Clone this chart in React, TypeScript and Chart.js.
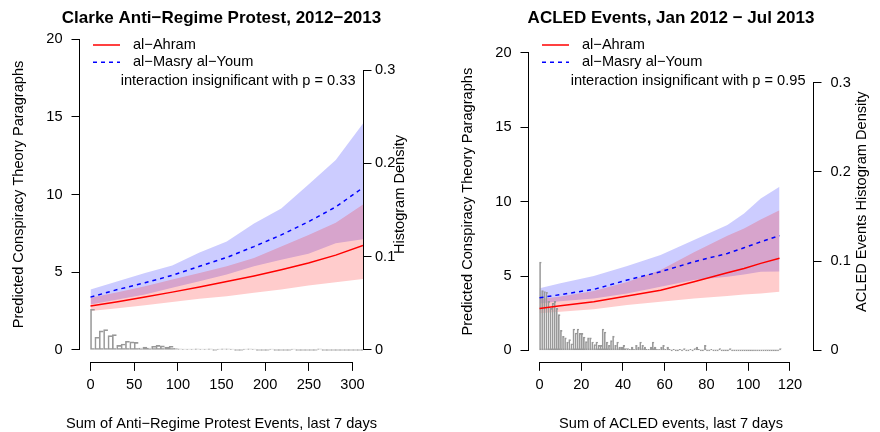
import { useEffect, useRef } from 'react';
import { Chart, registerables } from 'chart.js';

Chart.register(...registerables);

const FONT = '"Liberation Sans", Arial, Helvetica, sans-serif';
const TEXT_PX = 14.6;
const TITLE_PX = 17;
const RED = '#ff0000';
const BLUE = '#0000ff';
const HIST_COLOR = '#999999';
const PANEL_W = 440;
const PANEL_H = 432;

// shared ticks
const countTicks = [0, 5, 10, 15, 20];
const densityTicks = [0, 0.1, 0.2, 0.3];
const countRange: [number, number] = [-0.8, 20.8];
const densityPerCount = 1 / 60;

// ---------- Panel 1: Clarke anti-regime protests ----------
const clarkeX = [0, 31.2, 62.4, 93.6, 124.8, 156, 187.2, 218.4, 249.6, 280.8, 312];
const clarkeAhramMean = [2.83, 3.1, 3.4, 3.72, 4.05, 4.4, 4.76, 5.16, 5.6, 6.1, 6.72];
const clarkeAhramLow = [2.51, 2.68, 2.87, 3.08, 3.3, 3.46, 3.68, 3.89, 4.15, 4.36, 4.57];
const clarkeAhramHigh = [3.36, 3.72, 4.1, 4.53, 4.95, 5.38, 5.91, 6.65, 7.4, 8.18, 9.35];
const clarkeMasryMean = [3.4, 3.89, 4.32, 4.8, 5.38, 5.95, 6.65, 7.4, 8.25, 9.2, 10.44];
const clarkeMasryLow = [2.93, 3.25, 3.57, 4.0, 4.42, 4.85, 5.38, 5.8, 6.19, 6.87, 7.12];
const clarkeMasryHigh = [3.89, 4.42, 4.95, 5.44, 6.27, 6.97, 8.14, 9.1, 10.65, 12.22, 14.56];
const clarkeHistWidth = 5;
const clarkeHistDensity = [
  0.0436, 0.0136, 0.0204, 0.0218, 0.0153, 0.0164, 0.005, 0.0064, 0.0093, 0.0086,
  0.0082, 0.0021, 0.0032, 0.0021, 0.004, 0.005, 0.0043, 0.0032, 0.004, 0.0018,
  0.0011, 0.0005, 0.0005, 0.0005, 0.0011, 0.0005, 0.0005, 0.0011, 0, 0.0005,
  0.0011, 0.0011, 0.0005, 0, 0, 0.0005, 0.0011, 0.0005, 0, 0,
  0, 0.0005, 0, 0, 0, 0, 0.0005, 0, 0, 0,
  0, 0, 0.0011, 0, 0, 0, 0, 0, 0, 0,
  0, 0, 0,
];
const clarkeXTicks = [0, 50, 100, 150, 200, 250, 300];

// ---------- Panel 2: ACLED events ----------
const acledX = [0, 10, 26, 42, 58, 74, 90, 98, 106, 115];
const acledAhramMean = [2.82, 3.0, 3.27, 3.65, 4.05, 4.61, 5.22, 5.5, 5.85, 6.19];
const acledAhramLow = [2.49, 2.6, 2.76, 3.05, 3.27, 3.49, 3.65, 3.75, 3.83, 3.94];
const acledAhramHigh = [3.45, 3.62, 4.0, 4.6, 5.4, 6.6, 7.7, 8.2, 8.8, 9.43];
const acledMasryMean = [3.54, 3.75, 4.1, 4.73, 5.29, 5.96, 6.52, 6.9, 7.3, 7.71];
const acledMasryLow = [3.16, 3.3, 3.49, 3.83, 4.28, 4.73, 4.95, 5.1, 5.29, 5.3];
const acledMasryHigh = [4.17, 4.51, 5.0, 5.67, 6.41, 7.42, 8.43, 9.21, 10.22, 11.0];
const acledHistWidth = 1;
const acledHistDensity = [
  0.099, 0.067, 0.066, 0.065, 0.055, 0.047, 0.053, 0.055, 0.047, 0.04,
  0.0225, 0.0157, 0.014, 0.0094, 0.012, 0.0075, 0.024, 0.0195, 0.024, 0.019,
  0.019, 0.015, 0.0098, 0.014, 0.014, 0.0094, 0.0064, 0.0094, 0.0056, 0.0056,
  0.024, 0.0206, 0.0094, 0.0056, 0.011, 0.016, 0.0056, 0.0094, 0.0037, 0.0037,
  0.0056, 0.0019, 0.0019, 0.0013, 0.0037, 0.0013, 0.0056, 0.0037, 0.0094, 0.0056,
  0.0037, 0.0013, 0.0013, 0.0037, 0.0094, 0.0037, 0.0013, 0.0013, 0.0037, 0.0056,
  0.0013, 0.0037, 0.0013, 0, 0.0013, 0, 0, 0.0013, 0, 0.0019,
  0, 0, 0.0013, 0, 0.0019, 0.0037, 0.0013, 0, 0, 0.0056,
  0, 0, 0.0013, 0, 0, 0, 0.0019, 0, 0, 0,
  0, 0.0019, 0, 0, 0, 0, 0, 0, 0, 0,
  0, 0, 0, 0, 0, 0, 0, 0, 0, 0,
  0, 0, 0, 0, 0, 0.0019,
];
const acledXTicks = [0, 20, 40, 60, 80, 100, 120];

interface PanelSpec {
  title: string;
  xTitle: string;
  yTitle: string;
  y2Title: string;
  note: string;
  x: number[];
  ahramMean: number[];
  ahramLow: number[];
  ahramHigh: number[];
  masryMean: number[];
  masryLow: number[];
  masryHigh: number[];
  histWidth: number;
  hist: number[];
  xRange: [number, number];
  xTicks: number[];
  area: { left: number; right: number; top: number; bottom: number };
  y2LabelPad: number;
  y2TitleGap: number;
}

const clarkePanel: PanelSpec = {
  title: 'Clarke Anti\u2212Regime Protest, 2012\u22122013',
  xTitle: 'Sum of Anti\u2212Regime Protest Events, last 7 days',
  yTitle: 'Predicted Conspiracy Theory Paragraphs',
  y2Title: 'Histogram Density',
  note: 'interaction insignificant with p = 0.33',
  x: clarkeX,
  ahramMean: clarkeAhramMean,
  ahramLow: clarkeAhramLow,
  ahramHigh: clarkeAhramHigh,
  masryMean: clarkeMasryMean,
  masryLow: clarkeMasryLow,
  masryHigh: clarkeMasryHigh,
  histWidth: clarkeHistWidth,
  hist: clarkeHistDensity,
  xRange: [-12, 312],
  xTicks: clarkeXTicks,
  area: { left: 80, right: 363, top: 26.6, bottom: 362.4 },
  y2LabelPad: 3.5,
  y2TitleGap: 37,
};

const acledPanel: PanelSpec = {
  title: 'ACLED Events, Jan 2012 \u2212 Jul 2013',
  xTitle: 'Sum of ACLED events, last 7 days',
  yTitle: 'Predicted Conspiracy Theory Paragraphs',
  y2Title: 'ACLED Events Histogram Density',
  note: 'interaction insignificant with p = 0.95',
  x: acledX,
  ahramMean: acledAhramMean,
  ahramLow: acledAhramLow,
  ahramHigh: acledAhramHigh,
  masryMean: acledMasryMean,
  masryLow: acledMasryLow,
  masryHigh: acledMasryHigh,
  histWidth: acledHistWidth,
  hist: acledHistDensity,
  xRange: [-5.04, 131.04],
  xTicks: acledXTicks,
  area: { left: 89, right: 373, top: 41, bottom: 362.3 },
  y2LabelPad: 9,
  y2TitleGap: 49,
};

const toXY = (xs: number[], ys: number[]) => xs.map((x, i) => ({ x, y: ys[i] }));

function PanelChart({ spec }: { spec: PanelSpec }) {
  const ref = useRef<HTMLCanvasElement | null>(null);

  useEffect(() => {
    const canvas = ref.current;
    if (!canvas) return;
    const area = spec.area;
    const tickFont = { family: FONT, size: TEXT_PX };

    const decor = {
      id: 'decor',
      afterDraw(chart: any) {
        const { ctx, chartArea: ca, scales } = chart;
        const sx = scales.x;
        const sy = scales.y;
        const sy2 = scales.y2;
        ctx.save();
        ctx.strokeStyle = '#000';
        ctx.lineWidth = 1;
        ctx.setLineDash([]);
        const al = (v: number) => Math.round(v - 0.5) + 0.5;
        // spines spanning first to last tick (R style)
        ctx.beginPath();
        const lx = Math.round(ca.left) - 0.5;
        ctx.moveTo(lx, al(sy.getPixelForValue(countTicks[0])) + 0.5);
        ctx.lineTo(lx, al(sy.getPixelForValue(countTicks[countTicks.length - 1])) - 0.5);
        const rx = Math.round(ca.right) + 0.5;
        ctx.moveTo(rx, al(sy2.getPixelForValue(densityTicks[0])) + 0.5);
        ctx.lineTo(rx, al(sy2.getPixelForValue(densityTicks[densityTicks.length - 1])) - 0.5);
        const by = Math.round(ca.bottom) + 0.5;
        ctx.moveTo(al(sx.getPixelForValue(spec.xTicks[0])) - 0.5, by);
        ctx.lineTo(al(sx.getPixelForValue(spec.xTicks[spec.xTicks.length - 1])) + 0.5, by);
        ctx.stroke();

        // legend
        const l0 = ca.left + 13;
        const l1 = ca.left + 40;
        const tx = ca.left + 53;
        const rows = [45, 62.3];
        ctx.lineWidth = 1.5;
        ctx.strokeStyle = RED;
        ctx.beginPath();
        ctx.moveTo(l0, rows[0]);
        ctx.lineTo(l1, rows[0]);
        ctx.stroke();
        ctx.strokeStyle = BLUE;
        ctx.setLineDash([4, 4]);
        ctx.beginPath();
        ctx.moveTo(l0, rows[1]);
        ctx.lineTo(l1, rows[1]);
        ctx.stroke();
        ctx.setLineDash([]);

        const cy = (ca.top + ca.bottom) / 2;
        const cx = (ca.left + ca.right) / 2;

        // main title
        ctx.fillStyle = '#000';
        ctx.textBaseline = 'middle';
        ctx.textAlign = 'center';
        ctx.font = `bold ${TITLE_PX}px ${FONT}`;
        ctx.fillText(spec.title, cx, 18);

        ctx.font = `${TEXT_PX}px ${FONT}`;
        ctx.textAlign = 'left';
        ctx.fillText('al\u2212Ahram', tx, rows[0]);
        ctx.fillText('al\u2212Masry al\u2212Youm', tx, rows[1]);
        ctx.textAlign = 'right';
        ctx.fillText(spec.note, ca.right - 7.5, 80.5);

        // axis titles
        ctx.textAlign = 'center';
        ctx.fillText(spec.xTitle, cx, ca.bottom + 61.6);
        ctx.save();
        ctx.translate(ca.left - 61, cy);
        ctx.rotate(-Math.PI / 2);
        ctx.fillText(spec.yTitle, 0, 0);
        ctx.restore();
        ctx.save();
        ctx.translate(ca.right + spec.y2TitleGap, cy);
        ctx.rotate(-Math.PI / 2);
        ctx.fillText(spec.y2Title, 0, 0);
        ctx.restore();
        ctx.restore();
      },
    };

    const lineBase = { pointRadius: 0, tension: 0, fill: false };
    const bandEdge = { ...lineBase, borderWidth: 0, borderColor: 'rgba(0,0,0,0)' };

    const histData = spec.hist.map((d, i) => ({ x: (i + 0.5) * spec.histWidth, y: d }));

    const chart = new Chart(canvas, {
      type: 'line',
      data: {
        datasets: [
          { ...lineBase, label: 'al\u2212Ahram', data: toXY(spec.x, spec.ahramMean), borderColor: RED, borderWidth: 1.5 },
          {
            ...lineBase,
            label: 'al\u2212Masry al\u2212Youm',
            data: toXY(spec.x, spec.masryMean),
            borderColor: BLUE,
            borderWidth: 1.5,
            borderDash: [4, 4],
          },
          {
            type: 'bar',
            label: 'histogram',
            data: histData,
            yAxisID: 'y2',
            borderColor: HIST_COLOR,
            backgroundColor: 'rgba(0,0,0,0)',
            borderWidth: { top: 1, left: 1, right: 0, bottom: 1 },
            borderSkipped: false,
            barPercentage: 1,
            categoryPercentage: 1,
            minBarLength: 1,
          } as any,
          { ...bandEdge, label: 'ahramHigh', data: toXY(spec.x, spec.ahramHigh), fill: '+1', backgroundColor: 'rgba(255,0,0,0.2)' },
          { ...bandEdge, label: 'ahramLow', data: toXY(spec.x, spec.ahramLow) },
          { ...bandEdge, label: 'masryHigh', data: toXY(spec.x, spec.masryHigh), fill: '+1', backgroundColor: 'rgba(0,0,255,0.2)' },
          { ...bandEdge, label: 'masryLow', data: toXY(spec.x, spec.masryLow) },
        ] as any,
      },
      options: {
        responsive: false,
        animation: false,
        events: [],
        layout: { padding: { top: area.top, left: 0, right: 0, bottom: 0 } },
        plugins: {
          legend: { display: false },
          tooltip: { enabled: false },
          title: { display: false },
        },
        scales: {
          x: {
            type: 'linear',
            min: spec.xRange[0],
            max: spec.xRange[1],
            offset: false,
            border: { display: false },
            grid: { drawOnChartArea: false, drawTicks: true, tickLength: 8.5, color: '#000', lineWidth: 1, offset: false },
            ticks: {
              font: tickFont,
              color: '#000',
              padding: 5.5,
              autoSkip: false,
              maxRotation: 0,
              callback: (v: any) => String(v),
            },
            afterBuildTicks: (s: any) => {
              s.ticks = spec.xTicks.map((value) => ({ value }));
            },
            afterFit: (s: any) => {
              s.height = PANEL_H - area.bottom;
            },
          },
          y: {
            type: 'linear',
            position: 'left',
            min: countRange[0],
            max: countRange[1],
            border: { display: false },
            grid: { drawOnChartArea: false, drawTicks: true, tickLength: 8.5, color: '#000', lineWidth: 1 },
            ticks: { font: tickFont, color: '#000', padding: 9, autoSkip: false, callback: (v: any) => String(v) },
            afterBuildTicks: (s: any) => {
              s.ticks = countTicks.map((value) => ({ value }));
            },
            afterFit: (s: any) => {
              s.width = area.left;
            },
          },
          y2: {
            type: 'linear',
            position: 'right',
            min: countRange[0] * densityPerCount,
            max: countRange[1] * densityPerCount,
            border: { display: false },
            grid: { drawOnChartArea: false, drawTicks: true, tickLength: 8.5, color: '#000', lineWidth: 1 },
            ticks: {
              font: tickFont,
              color: '#000',
              padding: spec.y2LabelPad,
              autoSkip: false,
              callback: (v: any) => String(v),
            },
            afterBuildTicks: (s: any) => {
              s.ticks = densityTicks.map((value) => ({ value }));
            },
            afterFit: (s: any) => {
              s.width = PANEL_W - area.right;
            },
          },
        },
      } as any,
      plugins: [decor],
    });

    return () => {
      chart.destroy();
    };
  }, [spec]);

  return (
    <canvas
      ref={ref}
      width={PANEL_W}
      height={PANEL_H}
      style={{ display: 'block', width: PANEL_W, height: PANEL_H }}
    />
  );
}

export default function App() {
  return (
    <div
      style={{
        position: 'absolute',
        left: 0,
        top: 0,
        width: PANEL_W * 2,
        height: PANEL_H,
        background: '#fff',
        display: 'flex',
        overflow: 'hidden',
      }}
    >
      <PanelChart spec={clarkePanel} />
      <PanelChart spec={acledPanel} />
    </div>
  );
}
